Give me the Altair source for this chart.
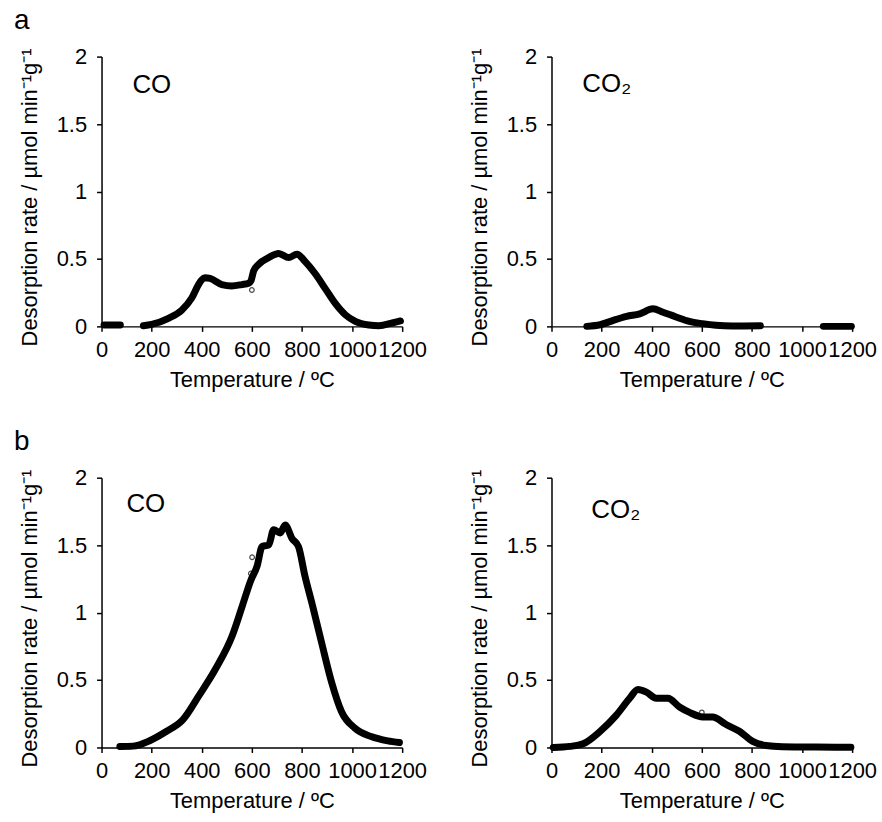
import altair as alt
import pandas as pd

# ---------------- data ----------------
# panel a, CO (two runs of points)
a_co_seg1_T = [10, 40, 75]
a_co_seg1_v = [0.01, 0.01, 0.01]
a_co_seg2_T = [167, 200, 267, 320, 360, 387, 400, 413, 433, 480, 520, 560, 587, 597, 607,
               627, 667, 707, 747, 780, 813, 853, 893, 933, 973, 1013, 1067, 1107, 1160, 1193]
a_co_seg2_v = [0.005, 0.015, 0.06, 0.12, 0.21, 0.31, 0.345, 0.36, 0.355, 0.31, 0.30, 0.31, 0.32, 0.34, 0.41,
               0.46, 0.51, 0.54, 0.51, 0.535, 0.48, 0.39, 0.28, 0.17, 0.086, 0.037, 0.01, 0.005, 0.025, 0.04]
a_co_out_T = [600]
a_co_out_v = [0.27]

# panel a, CO2
a_co2_seg1_T = [141, 194, 247, 300, 352, 405, 445, 497, 550, 603, 656, 722, 834]
a_co2_seg1_v = [0.0, 0.012, 0.045, 0.074, 0.093, 0.13, 0.105, 0.07, 0.037, 0.02, 0.008, 0.003, 0.004]
a_co2_seg2_T = [1085, 1197]
a_co2_seg2_v = [0.0, 0.0]

# panel b, CO
b_co_T = [73, 126, 192, 258, 324, 390, 456, 522, 562, 595, 621, 641, 667, 687, 713, 733,
          760, 786, 812, 839, 878, 918, 958, 1011, 1076, 1143, 1189]
b_co_v = [0.007, 0.01, 0.05, 0.118, 0.204, 0.388, 0.585, 0.83, 1.05, 1.235, 1.345, 1.49, 1.50, 1.615, 1.59, 1.65,
          1.55, 1.49, 1.27, 1.075, 0.78, 0.486, 0.265, 0.143, 0.081, 0.049, 0.037]
b_co_out_T = [601, 596]
b_co_out_v = [1.41, 1.29]

# panel b, CO2
b_co2_T = [7, 74, 126, 193, 259, 312, 345, 379, 418, 465, 511, 551, 604, 643, 697, 750, 803, 856, 922, 1055, 1195]
b_co2_v = [0.0, 0.008, 0.027, 0.118, 0.24, 0.365, 0.43, 0.41, 0.365, 0.365, 0.30, 0.26, 0.226, 0.226, 0.17,
           0.12, 0.045, 0.015, 0.006, 0.003, 0.002]
b_co2_out_T = [600]
b_co2_out_v = [0.26]

x_ticks = [0, 200, 400, 600, 800, 1000, 1200]
y_ticks = [0, 0.5, 1, 1.5, 2]
x_title = "Temperature / ºC"
y_title = "Desorption rate / µmol min⁻¹g⁻¹"

FONT = "Liberation Sans"
W, H = 302, 271


def seg_frame(pairs):
    rows = []
    for i, (ts, vs) in enumerate(pairs):
        for t, v in zip(ts, vs):
            rows.append({"T": t, "v": v, "seg": i})
    return pd.DataFrame(rows)


def panel(segs, outliers, label, letter=None, lx=31, ly=37):
    xenc = alt.X("T:Q", scale=alt.Scale(domain=[0, 1200], nice=False),
                 axis=alt.Axis(values=x_ticks, title=x_title, labelOverlap=False, labelFlush=False,
                               labelExpr="datum.value + ''", labelPadding=8, titlePadding=9))
    yenc = alt.Y("v:Q", scale=alt.Scale(domain=[0, 2], nice=False),
                 axis=alt.Axis(values=y_ticks, title=y_title, labelExpr="datum.value + ''",
                               labelPadding=10, titleX=-65, titleY=141, titleAngle=270,
                               titleAlign="center", titleBaseline="alphabetic"))
    line = alt.Chart(seg_frame(segs)).mark_line(
        color="black", strokeWidth=7, strokeCap="round", strokeJoin="round", interpolate="monotone"
    ).encode(x=xenc, y=yenc, detail="seg:N", order="T:Q")
    layers = [line]
    if outliers:
        odf = pd.DataFrame({"T": outliers[0], "v": outliers[1]})
        pts = alt.Chart(odf).mark_point(color="black", filled=False, size=22, strokeWidth=1.2).encode(
            x="T:Q", y="v:Q")
        layers.append(pts)
    txt = alt.Chart(alt.Data(values=[{"t": label}])).mark_text(
        align="left", baseline="alphabetic", fontSize=26, font=FONT, color="black"
    ).encode(x=alt.value(lx), y=alt.value(ly), text="t:N")
    layers.append(txt)
    if letter:
        let = alt.Chart(alt.Data(values=[{"t": letter}])).mark_text(
            align="left", baseline="alphabetic", fontSize=28, font=FONT, color="black"
        ).encode(x=alt.value(-88), y=alt.value(-28), text="t:N")
        layers.append(let)
    return alt.layer(*layers).properties(width=W, height=H)


p1 = panel([(a_co_seg1_T, a_co_seg1_v), (a_co_seg2_T, a_co_seg2_v)], (a_co_out_T, a_co_out_v),
           "CO", "a", 31, 37)
p2 = panel([(a_co2_seg1_T, a_co2_seg1_v), (a_co2_seg2_T, a_co2_seg2_v)], None, "CO₂", None, 31, 36)
p3 = panel([(b_co_T, b_co_v)], (b_co_out_T, b_co_out_v), "CO", "b", 25, 34)
p4 = panel([(b_co2_T, b_co2_v)], (b_co2_out_T, b_co2_out_v), "CO₂", None, 40, 40)

chart = alt.vconcat(
    alt.hconcat(p1, p2, spacing=41),
    alt.hconcat(p3, p4, spacing=41),
    spacing=38,
).properties(
    padding={"left": 14, "top": 5, "right": 5, "bottom": 5},
    background="white",
).configure_view(stroke=None).configure_axis(
    grid=False, domainColor="black", domainWidth=1.5, tickColor="black", tickWidth=1.5, tickSize=5,
    labelFont=FONT, labelFontSize=22, labelColor="black", titleFont=FONT, titleFontSize=22,
    titleColor="black", titleFontWeight="normal"
)

chart.save("out.html", embed_options={"renderer": "svg", "actions": False})
